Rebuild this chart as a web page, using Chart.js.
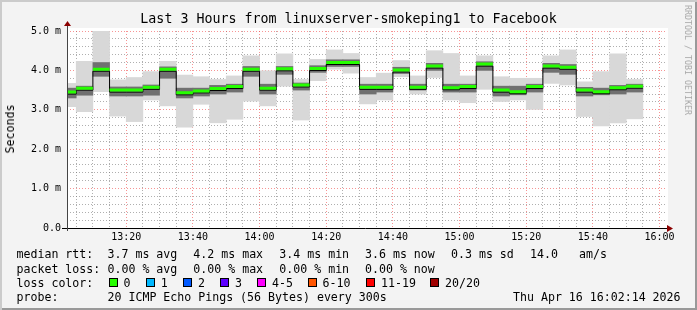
<!DOCTYPE html>
<html>
<head>
  <title>Last 3 Hours from linuxserver-smokeping1 to Facebook</title>
  <script src="https://cdn.jsdelivr.net/npm/chart.js"></script>
  <style>
    body {
      margin: 0;
      background: #ffffff;
    }

    #wrap {
      position: relative;
      width: 697px;
      height: 310px;
      background: #f3f3f3;
      box-shadow: inset 2px 2px 0 #cbcbcb, inset -2px -2px 0 #999999;
      font-family: "DejaVu Sans Mono", monospace;
      overflow: hidden;
    }

    #chart {
      position: absolute;
      left: 0;
      top: 0;
    }

    .txt {
      position: absolute;
      white-space: pre;
      font-size: 11.6px;
      line-height: 14px;
      color: #000;
    }

    .title {
      left: 0;
      width: 697px;
      top: 11px;
      text-align: center;
      font-size: 13.3px;
      line-height: 16px;
    }

    .rot {
      transform: translate(-50%, -50%) rotate(-90deg);
    }

    .mark {
      font-size: 8.3px;
      line-height: 10px;
      color: #a8a8a8;
      transform: translate(-50%, -50%) rotate(90deg);
    }

    .box {
      position: absolute;
      width: 9px;
      height: 9px;
      box-sizing: border-box;
      border: 1px solid #000;
    }
  </style>
</head>
<body>
<div id="wrap">
  <canvas id="chart" width="697" height="310"></canvas>

  <div class="txt title">Last 3 Hours from linuxserver-smokeping1 to Facebook</div>
  <div class="txt rot" style="left:10px; top:129px;">Seconds</div>
  <div class="txt mark" style="left:688px; top:60px;">RRDTOOL / TOBI OETIKER</div>

  <div id="legend"></div>
</div>

<script>
  // time axis in minutes after 13:00, one bin every 5 minutes
  const startMin = 2 + 14 / 60;   // 13:02:14
  const endMin = startMin + 180;  // 16:02:14
  const binMinutes = 5;

  // median rtt per bin (ms)
  const medians = [3.45, 3.55, 4.03, 3.50, 3.50, 3.57, 4.03, 3.43, 3.48, 3.54,
                   3.59, 4.03, 3.55, 4.04, 3.63, 4.05, 4.20, 4.20, 3.57, 3.57,
                   4.01, 3.57, 4.11, 3.56, 3.59, 4.16, 3.50, 3.46, 3.59, 4.11,
                   4.08, 3.50, 3.46, 3.56, 3.60];

  // full smoke range (slowest / fastest ping)
  const smokeMax = [3.67, 4.23, 5.07, 3.76, 3.82, 3.97, 4.23, 3.88, 3.84, 3.77,
                    3.86, 4.37, 3.99, 4.42, 3.77, 4.28, 4.52, 4.43, 3.82, 3.93,
                    4.25, 3.86, 4.50, 4.43, 3.86, 4.37, 3.84, 3.80, 3.80, 4.37,
                    4.52, 3.71, 3.97, 4.42, 3.77];
  const smokeMin = [3.08, 2.95, 3.46, 2.84, 2.70, 3.25, 3.10, 2.56, 3.14, 2.67,
                    2.76, 3.22, 3.10, 3.60, 2.74, 3.74, 4.03, 3.93, 3.15, 3.25,
                    3.84, 3.40, 3.82, 3.25, 3.18, 3.52, 3.21, 3.25, 3.01, 3.67,
                    3.63, 2.83, 2.59, 2.67, 2.77];

  // dense middle of the smoke
  const coreMax = [3.55, 3.60, 4.20, 3.58, 3.58, 3.63, 4.09, 3.55, 3.55, 3.62,
                   3.65, 4.10, 3.65, 4.10, 3.68, 4.12, 4.27, 4.27, 3.65, 3.65,
                   4.08, 3.65, 4.18, 3.65, 3.65, 4.22, 3.60, 3.60, 3.65, 4.18,
                   4.15, 3.57, 3.55, 3.62, 3.65];
  const coreMin = [3.30, 3.37, 3.85, 3.35, 3.35, 3.37, 3.80, 3.30, 3.35, 3.40,
                   3.45, 3.85, 3.40, 3.90, 3.50, 3.95, 4.10, 4.10, 3.40, 3.45,
                   3.92, 3.50, 4.00, 3.45, 3.45, 4.00, 3.35, 3.38, 3.45, 3.95,
                   3.90, 3.35, 3.38, 3.40, 3.45];

  const yTickLabels = ['0.0', '1.0 m', '2.0 m', '3.0 m', '4.0 m', '5.0 m'];

  const lossLabels = ['0', '1', '2', '3', '4-5', '6-10', '11-19', '20/20'];
  const lossColors = ['#26ff00', '#00b8ff', '#0059ff', '#5e00ff', '#ff00ff', '#ff5500', '#ff0000', '#a00000'];
  const lossBoxX = [108.5, 145.7, 183, 220, 257, 307.5, 366, 430];

  // legend text, one row per line
  const legendRows = [
    {top: 247, parts: [[16.5, 'median rtt:'], [107.5, '3.7 ms avg'], [193.3, '4.2 ms max'], [279.3, '3.4 ms min'],
                       [365, '3.6 ms now'], [451, '0.3 ms sd'], [530, '14.0'], [579, 'am/s']]},
    {top: 261.5, parts: [[16.5, 'packet loss:'], [107.5, '0.00 % avg'], [193.3, '0.00 % max'], [279.3, '0.00 % min'],
                         [365, '0.00 % now']]},
    {top: 275.5, parts: [[16.5, 'loss color:']]},
    {top: 289.5, parts: [[16.5, 'probe:'], [107.5, '20 ICMP Echo Pings (56 Bytes) every 300s'], [513, 'Thu Apr 16 16:02:14 2026']]}
  ];

  const legend = document.getElementById('legend');
  legendRows.forEach(row => {
    row.parts.forEach(p => {
      const d = document.createElement('div');
      d.className = 'txt';
      d.style.left = p[0] + 'px';
      d.style.top = row.top + 'px';
      d.textContent = p[1];
      legend.appendChild(d);
    });
  });
  lossLabels.forEach((lbl, i) => {
    const b = document.createElement('div');
    b.className = 'box';
    b.style.left = lossBoxX[i] + 'px';
    b.style.top = '278px';
    b.style.background = lossColors[i];
    legend.appendChild(b);
    const t = document.createElement('div');
    t.className = 'txt';
    t.style.left = (lossBoxX[i] + 15) + 'px';
    t.style.top = '275.5px';
    t.textContent = lbl;
    legend.appendChild(t);
  });

  function clock(m) {
    const h = 13 + Math.floor(m / 60);
    const mm = m % 60;
    return h + ':' + (mm < 10 ? '0' : '') + mm;
  }

  // bars centred on each 5 minute bin
  const outerData = medians.map((_, i) => ({x: i * binMinutes + binMinutes / 2, y: [smokeMin[i], smokeMax[i]]}));
  const coreData = medians.map((_, i) => ({x: i * binMinutes + binMinutes / 2, y: [coreMin[i], coreMax[i]]}));

  // stepped black median line
  const stepData = medians.map((v, i) => ({x: i * binMinutes, y: v}));
  stepData.push({x: medians.length * binMinutes, y: medians[medians.length - 1]});

  // green segments, broken between bins
  const greenData = [];
  medians.forEach((v, i) => {
    greenData.push({x: i * binMinutes, y: v});
    greenData.push({x: (i + 1) * binMinutes, y: v});
    greenData.push({x: (i + 1) * binMinutes, y: null});
  });

  const majorGrid = 'rgba(240, 60, 60, 0.55)';
  const minorGrid = 'rgba(110, 110, 110, 0.55)';

  const plotBack = {
    id: 'plotBack',
    beforeDraw(chart) {
      const a = chart.chartArea;
      const ctx = chart.ctx;
      ctx.save();
      ctx.fillStyle = '#ffffff';
      ctx.fillRect(a.left, a.top - 3, a.right - a.left + 1, a.bottom - a.top + 3);
      ctx.restore();
    },
    // black median line sits just under the green one
    beforeDatasetDraw(chart, args) {
      if (args.index === 1) {
        chart.ctx.save();
        chart.ctx.translate(0, 2);
      }
    },
    afterDatasetDraw(chart, args) {
      if (args.index === 1) chart.ctx.restore();
    },
    afterDraw(chart) {
      const a = chart.chartArea;
      const ctx = chart.ctx;
      ctx.save();
      ctx.lineWidth = 1;
      ctx.strokeStyle = '#000';
      ctx.beginPath();
      ctx.moveTo(62, a.bottom + 0.5);
      ctx.lineTo(a.right + 2, a.bottom + 0.5);
      ctx.stroke();
      ctx.strokeStyle = '#444';
      ctx.beginPath();
      ctx.moveTo(a.left + 0.5, a.bottom + 3);
      ctx.lineTo(a.left + 0.5, a.top - 6);
      ctx.stroke();
      ctx.fillStyle = '#8b0000';
      ctx.beginPath();
      ctx.moveTo(a.right, a.bottom - 3);
      ctx.lineTo(a.right + 6, a.bottom + 0.5);
      ctx.lineTo(a.right, a.bottom + 4);
      ctx.fill();
      ctx.beginPath();
      ctx.moveTo(a.left - 3, a.top - 5);
      ctx.lineTo(a.left + 0.5, a.top - 10);
      ctx.lineTo(a.left + 4, a.top - 5);
      ctx.fill();
      ctx.restore();
    }
  };

  new Chart(document.getElementById('chart'), {
    type: 'bar',
    data: {
      datasets: [
        {
          type: 'line',
          data: greenData,
          borderColor: '#26ff00',
          borderWidth: 3,
          borderCapStyle: 'butt',
          pointRadius: 0,
          spanGaps: false,
          clip: 0,
          order: 0
        },
        {
          type: 'line',
          data: stepData,
          stepped: true,
          borderColor: '#000000',
          borderWidth: 1,
          pointRadius: 0,
          clip: 0,
          order: 1
        },
        {
          data: coreData,
          backgroundColor: '#707070',
          grouped: false,
          barPercentage: 1,
          categoryPercentage: 1,
          clip: 0,
          order: 2
        },
        {
          data: outerData,
          backgroundColor: '#d8d8d8',
          grouped: false,
          barPercentage: 1,
          categoryPercentage: 1,
          clip: 0,
          order: 3
        }
      ]
    },
    options: {
      responsive: false,
      animation: false,
      layout: {
        padding: {top: 31, right: 30, bottom: 62, left: 0}
      },
      plugins: {
        legend: {display: false},
        tooltip: {enabled: false}
      },
      scales: {
        x: {
          type: 'linear',
          min: startMin,
          max: endMin,
          offset: false,
          afterBuildTicks: scale => {
            const ticks = [];
            for (let m = 5; m <= 180; m += 5) ticks.push({value: m});
            scale.ticks = ticks;
          },
          afterFit: scale => { scale.height = 20; },
          grid: {
            offset: false,
            drawTicks: false,
            color: ctx => (ctx.tick && ctx.tick.value % 20 === 0) ? majorGrid : minorGrid
          },
          border: {display: false, dash: [1, 2]},
          ticks: {
            autoSkip: false,
            maxRotation: 0,
            padding: 3,
            color: '#000',
            font: {family: 'DejaVu Sans Mono', size: 10},
            callback: v => (v % 20 === 0) ? clock(v) : ''
          }
        },
        y: {
          min: 0,
          max: 5,
          afterBuildTicks: scale => {
            const ticks = [];
            for (let k = 0; k <= 25; k++) ticks.push({value: k / 5});
            scale.ticks = ticks;
          },
          afterFit: scale => { scale.width = 67; },
          grid: {
            drawTicks: false,
            color: ctx => (ctx.tick && Math.abs(ctx.tick.value - Math.round(ctx.tick.value)) < 1e-9) ? majorGrid : minorGrid
          },
          border: {display: false, dash: [1, 2]},
          ticks: {
            autoSkip: false,
            padding: 6,
            color: '#000',
            font: {family: 'DejaVu Sans Mono', size: 10},
            callback: v => {
              const r = Math.round(v);
              return Math.abs(v - r) < 1e-9 ? yTickLabels[r] : '';
            }
          }
        }
      }
    },
    plugins: [plotBack]
  });
</script>

</body>
</html>
